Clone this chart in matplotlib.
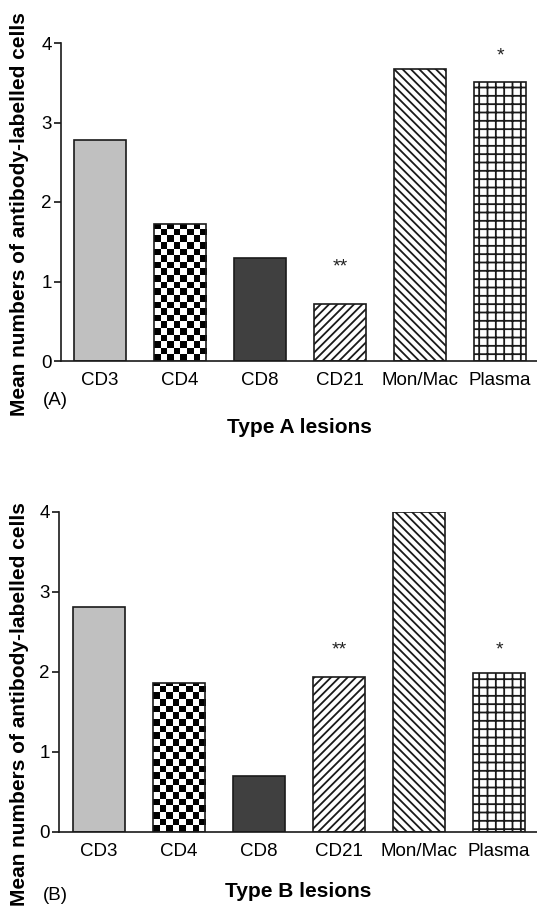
import numpy as np
import matplotlib
matplotlib.use('Agg')
import matplotlib.pyplot as plt

plt.rcParams['font.family'] = ['Liberation Sans', 'DejaVu Sans']
plt.rcParams['hatch.linewidth'] = 1.3

# data
cells = ['CD3', 'CD4', 'CD8', 'CD21', 'Mon/Mac', 'Plasma']
type_a = [2.78, 1.72, 1.30, 0.72, 3.67, 3.51]
type_b = [2.81, 1.86, 0.70, 1.94, 4.00, 1.99]
stars_a = ['', '', '', '**', '', '*']
stars_b = ['', '', '', '**', '', '*']
star_y_a = [0, 0, 0, 1.18, 0, 3.84]
star_y_b = [0, 0, 0, 2.28, 0, 2.28]

# fill style of each bar: (facecolor, hatch) ; 'checker' is drawn with an image
styles = [('#c0c0c0', None), ('checker', None), ('#404040', None),
          ('white', '////'), ('white', '\\\\\\\\'), ('white', '++')]


def checker(ax, bar, cell_x, cell_y):                 # checkerboard fill clipped to a bar
    x0 = bar.get_x()
    nx = int(np.ceil(bar.get_width() / cell_x))
    ny = int(np.ceil(bar.get_height() / cell_y))
    board = np.indices((ny, nx)).sum(axis=0) % 2
    im = ax.imshow(board, cmap='gray', origin='lower', aspect='auto', interpolation='nearest',
                   extent=(x0, x0 + nx * cell_x, 0, ny * cell_y), zorder=1.5)
    im.set_clip_path(bar)


def panel(ax, values, stars, star_y, xlim):
    x = np.arange(len(cells))
    for i in range(len(cells)):
        face, hatch = styles[i]
        b = ax.bar(x[i], values[i], width=0.66, color='white' if face == 'checker' else face,
                   edgecolor='#1a1a1a', linewidth=1.2, hatch=hatch, zorder=2)[0]
        if face == 'checker':
            b.set_facecolor('none')
            checker(ax, b, 0.0825, 0.083)
        if stars[i]:
            ax.text(x[i], star_y[i], stars[i], ha='center', va='center', fontsize=14, color='#222222')
    ax.set_xlim(xlim)
    ax.set_ylim(0, 4)
    ax.set_yticks([0, 1, 2, 3, 4])
    ax.set_xticks(x)
    ax.set_xticklabels(cells)
    ax.tick_params(axis='x', length=0, pad=8, labelsize=13.5)
    ax.tick_params(axis='y', length=5, width=1.1, pad=1.5, labelsize=13.5)
    for s in ['top', 'right']:
        ax.spines[s].set_visible(False)
    for s in ['left', 'bottom']:
        ax.spines[s].set_linewidth(1.2)
        ax.spines[s].set_color('#1a1a1a')


W, H = 537, 909
fig = plt.figure(figsize=(W / 100, H / 100), dpi=100)

axA = fig.add_axes([61 / W, 1 - 361 / H, 476 / W, 318 / H])
panel(axA, type_a, stars_a, star_y_a, (-0.4875, 5.4625))
axB = fig.add_axes([59 / W, 1 - 832 / H, 478 / W, 320 / H])
panel(axB, type_b, stars_b, star_y_b, (-0.5, 5.475))

ylab = 'Mean numbers of antibody-labelled cells'
fig.text(20 / W, 1 - 214 / H, ylab, rotation=90, ha='center', va='center', fontsize=15, fontweight='bold')
fig.text(20 / W, 1 - 704 / H, ylab, rotation=90, ha='center', va='center', fontsize=15, fontweight='bold')
fig.text(299 / W, 1 - 433 / H, 'Type A lesions', ha='center', va='baseline', fontsize=15, fontweight='bold')
fig.text(298 / W, 1 - 897 / H, 'Type B lesions', ha='center', va='baseline', fontsize=15, fontweight='bold')
fig.text(43 / W, 1 - 400 / H, '(A)', ha='left', va='center', fontsize=13.5)
fig.text(43 / W, 1 - 895 / H, '(B)', ha='left', va='center', fontsize=13.5)

fig.savefig('out.png', dpi=100)
